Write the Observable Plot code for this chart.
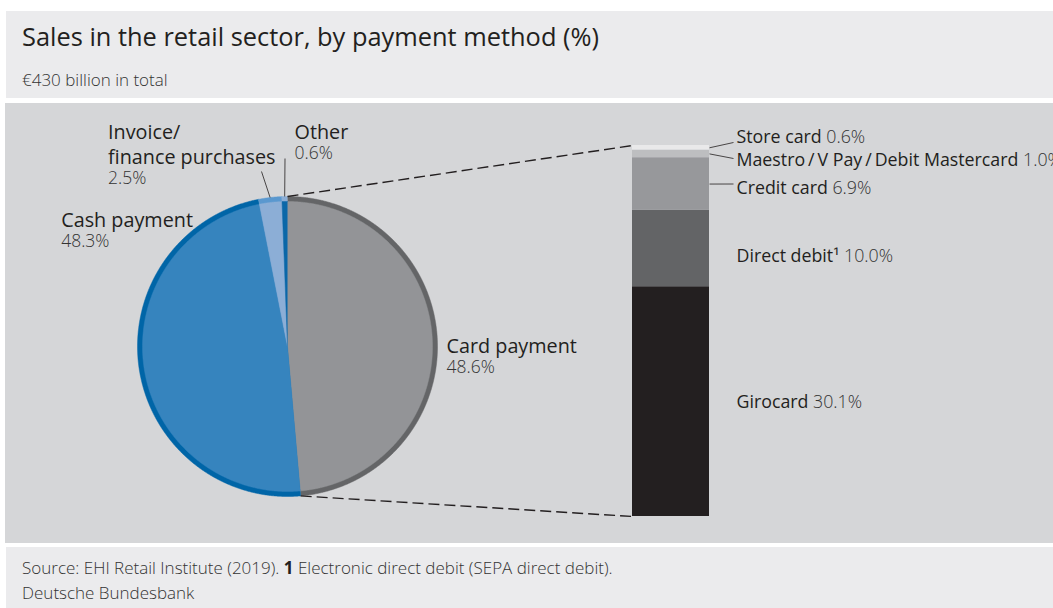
<!DOCTYPE html>
<html>
<head>
<meta charset="utf-8">
<script src="https://cdn.jsdelivr.net/npm/d3@7"></script>
<script src="https://cdn.jsdelivr.net/npm/@observablehq/plot@0.6"></script>
<style>
  body { margin: 0; background: #ffffff; width: 1053px; height: 608px; overflow: hidden; position: relative; font-family: "Open Sans", sans-serif; color: #231f20; }
  .band { position: absolute; left: 6px; width: 1100px; background: #ebebed; }
  .txt { position: absolute; left: 22px; white-space: nowrap; }
  #title { font-size: 25.4px; line-height: 25.4px; top: 23.5px; }
  #subtitle { font-size: 17px; line-height: 17px; top: 70.9px; font-weight: 300; color: #333333; }
  #src { font-size: 17px; line-height: 17px; top: 559px; font-weight: 300; color: #333333; }
  #src b { font-weight: 700; color: #231f20; }
  #org { font-size: 17px; line-height: 17px; top: 584px; font-weight: 300; color: #333333; }
  #chart { position: absolute; left: 5px; top: 103px; width: 1100px; height: 440px; }
  #chart svg { max-width: none !important; }
</style>
</head>
<body>
<div class="band" style="top:11px;height:87px"></div>
<div class="band" style="top:547px;height:70px"></div>
<div id="title" class="txt">Sales in the retail sector, by payment method (%)</div>
<div id="subtitle" class="txt">€430 billion in total</div>
<div id="src" class="txt">Source: EHI Retail Institute (2019). <b>1</b> Electronic direct debit (SEPA direct debit).</div>
<div id="org" class="txt">Deutsche Bundesbank</div>
<div id="chart"></div>
<script>
// ---------- data ----------
const paymentMethods = ["Card payment", "Cash payment", "Invoice/\nfinance purchases", "Other"];
const paymentShares  = [48.6, 48.3, 2.5, 0.6];
const cardTypes  = ["Girocard", "Direct debit\u00b9", "Credit card", "Maestro\u2009/\u2009V Pay\u2009/\u2009Debit Mastercard", "Store card"];
const cardShares = [30.1, 10.0, 6.9, 1.0, 0.6];

// ---------- styles ----------
const sliceFill = ["#939497", "#3684be", "#8caed6", "#0a67a8"];
const sliceRim  = ["#646567", "#0065a7", "#5a98cf", "#8caed6"];
const cardFill  = ["#231f20", "#636466", "#97989b", "#bdbec0", "#e9e9ea"];

// ---------- layout (svg pixels) ----------
const W = 1100, H = 440;
const barBottomPx = 413, barTopPx = 42, barLeftPx = 627, barRightPx = 704;
const pieCxPx = 282, pieCyPx = 243, pieRPx = 150, rimPx = 5;
const k = (barBottomPx - barTopPx) / d3.sum(cardShares); // px per percentage point
const X = px => px / k;
const Y = px => (barBottomPx - px) / k;

// pie label anchors (x, name baseline, value baseline)
const pieLabelPos = [[441, 249, 269], [55.7, 123, 143], [102.5, 60, 80], [289, 35, 55]];
// pie leaders: label end (x,y) for the small slices
const pieLeaderFrom = [null, null, [256, 68], [279.5, 55]];
// card label baselines and leader label-side y (null = no leader)
const cardLabelBase = [304, 158, 90, 62, 39];
const cardLeaderTo  = [null, null, 80.5, 55, 39];

// ---------- derived geometry ----------
const fmt = v => d3.format(".1f")(v) + "%";
const cx = X(pieCxPx), cy = Y(pieCyPx), R = pieRPx / k, rim = rimPx / k;
const starts = d3.cumsum([0, ...paymentShares]);
const ang = p => p / 100 * 2 * Math.PI;
const polar = (a, r) => [cx + r * Math.sin(a), cy + r * Math.cos(a)];

const wedgeRows = [];
paymentShares.forEach((v, i) => {
  const a0 = ang(starts[i]), a1 = ang(starts[i + 1]);
  [["rim", R, sliceRim[i]], ["fill", R - rim, sliceFill[i]]].forEach(([layer, r, col]) => {
    const key = layer + i;
    wedgeRows.push({key, layer, col, x: cx, y: cy});
    const n = Math.max(2, Math.ceil((a1 - a0) / 0.005));
    for (let j = 0; j <= n; j++) {
      const [x, y] = polar(a0 + (a1 - a0) * j / n, r);
      wedgeRows.push({key, layer, col, x, y});
    }
  });
});
const rimRows = wedgeRows.filter(d => d.layer === "rim");
const fillRows = wedgeRows.filter(d => d.layer === "fill");

const cardStarts = d3.cumsum([0, ...cardShares]);
const cardRows = cardTypes.map((name, i) => ({
  name, value: cardShares[i], y0: cardStarts[i], y1: cardStarts[i + 1], col: cardFill[i]
}));

const pieLabels = paymentMethods.map((name, i) => ({
  name, value: paymentShares[i],
  x: X(pieLabelPos[i][0]), yn: Y(pieLabelPos[i][1]), yv: Y(pieLabelPos[i][2])
}));

const pieLeaders = paymentMethods.map((name, i) => {
  if (!pieLeaderFrom[i]) return null;
  const [x2, y2] = polar(ang((starts[i] + starts[i + 1]) / 2), R);
  return {x1: X(pieLeaderFrom[i][0]), y1: Y(pieLeaderFrom[i][1]), x2, y2};
}).filter(Boolean);

const cardLabels = cardRows.map((d, i) => ({
  text: d.name + "|" + fmt(d.value), x: X(barRightPx + 27), y: Y(cardLabelBase[i])
}));
const cardLeaders = cardRows.map((d, i) => cardLeaderTo[i] == null ? null : ({
  x1: X(barRightPx), y1: (d.y0 + d.y1) / 2, x2: X(barRightPx + 24), y2: Y(cardLeaderTo[i])
})).filter(Boolean);

const cardEnd = polar(ang(paymentShares[0]), R);
const connectors = [
  {x1: cx, y1: cy + R, x2: X(barLeftPx), y2: d3.sum(cardShares)},
  {x1: cardEnd[0], y1: cardEnd[1], x2: X(barLeftPx), y2: 0}
];

const plot = Plot.plot({
  width: W, height: H,
  marginTop: 0, marginBottom: 0, marginLeft: 0, marginRight: 0,
  x: {domain: [0, X(W)], range: [0, W], axis: null},
  y: {domain: [Y(H), Y(0)], range: [H, 0], axis: null},
  color: {type: "identity"},
  style: {background: "#d5d6d8", fontFamily: "Open Sans, sans-serif", overflow: "visible"},
  marks: [
    Plot.line(rimRows, {x: "x", y: "y", z: "key", fill: "col", stroke: "col", strokeWidth: 0.5, curve: "linear"}),
    Plot.line(fillRows, {x: "x", y: "y", z: "key", fill: "col", stroke: "col", strokeWidth: 0.5, curve: "linear"}),
    Plot.rect(cardRows, {x1: X(barLeftPx), x2: X(barRightPx), y1: "y0", y2: "y1", fill: "col"}),
    Plot.link(connectors, {x1: "x1", y1: "y1", x2: "x2", y2: "y2", stroke: "#231f20", strokeWidth: 1.4, strokeDasharray: "11,5"}),
    Plot.link(pieLeaders, {x1: "x1", y1: "y1", x2: "x2", y2: "y2", stroke: "#231f20", strokeWidth: 0.8}),
    Plot.link(cardLeaders, {x1: "x1", y1: "y1", x2: "x2", y2: "y2", stroke: "#231f20", strokeWidth: 0.8}),
    Plot.text(pieLabels, {x: "x", y: "yn", text: "name", textAnchor: "start", lineAnchor: "bottom", lineHeight: 1.22, fontSize: 19.8, fill: "#231f20"}),
    Plot.text(pieLabels, {x: "x", y: "yv", text: d => fmt(d.value), textAnchor: "start", lineAnchor: "bottom", fontSize: 17.5, fontWeight: 300, fill: "#333333"}),
    Plot.text(cardLabels, {x: "x", y: "y", text: "text", textAnchor: "start", lineAnchor: "bottom", fontSize: 17.8, fill: "#231f20"})
  ]
});

// split "name|value" into two styled tspans
plot.querySelectorAll("text").forEach(t => {
  const s = t.textContent;
  if (!s.includes("|")) return;
  const [a, b] = s.split("|");
  while (t.firstChild) t.removeChild(t.firstChild);
  const ns = "http://www.w3.org/2000/svg";
  const t1 = document.createElementNS(ns, "tspan"); t1.textContent = a + " ";
  const t2 = document.createElementNS(ns, "tspan"); t2.textContent = b;
  t2.setAttribute("font-weight", "300"); t2.setAttribute("fill", "#333333");
  t.appendChild(t1); t.appendChild(t2);
});

document.getElementById("chart").appendChild(plot);
</script>
</body>
</html>
